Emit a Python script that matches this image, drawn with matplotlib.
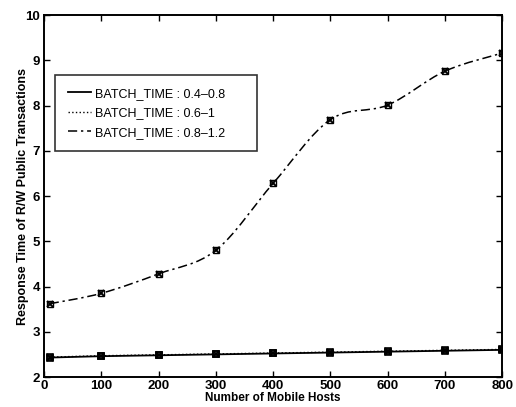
import matplotlib.pyplot as plt
import numpy as np
from matplotlib.path import Path
from matplotlib.patches import PathPatch
from matplotlib.lines import Line2D

plt.rcParams['font.family'] = ['Liberation Sans', 'DejaVu Sans']

hosts = [10, 100, 200, 300, 400, 500, 600, 700, 800]
batch_a = [2.43, 2.46, 2.48, 2.50, 2.52, 2.54, 2.56, 2.58, 2.60]   # 0.4-0.8
batch_b = [2.44, 2.47, 2.49, 2.51, 2.53, 2.55, 2.57, 2.59, 2.61]   # 0.6-1
batch_c = [3.62, 3.85, 4.28, 4.80, 6.28, 7.69, 8.01, 8.76, 9.16]   # 0.8-1.2
labels = ['BATCH_TIME : 0.4\u20130.8', 'BATCH_TIME : 0.6\u20131', 'BATCH_TIME : 0.8\u20131.2']


def smooth_path(x, y):
    # catmull-rom -> cubic bezier, only for drawing the connecting line
    x = np.asarray(x, float); y = np.asarray(y, float)
    verts = [(x[0], y[0])]
    codes = [Path.MOVETO]
    n = len(x)
    for i in range(n - 1):
        x0, y0 = (x[i-1], y[i-1]) if i > 0 else (x[i], y[i])
        x3, y3 = (x[i+2], y[i+2]) if i + 2 < n else (x[i+1], y[i+1])
        c1 = (x[i] + (x[i+1] - x0) / 6, y[i] + (y[i+1] - y0) / 6)
        c2 = (x[i+1] - (x3 - x[i]) / 6, y[i+1] - (y3 - y[i]) / 6)
        verts += [c1, c2, (x[i+1], y[i+1])]
        codes += [Path.CURVE4] * 3
    return Path(verts, codes)


fig = plt.figure(figsize=(5.16, 4.07), dpi=100)
ax = fig.add_axes([0.0853, 0.0737, 0.888, 0.8893])

ax.plot(hosts, batch_a, color='black', lw=1.3)
ax.plot(hosts, batch_b, color='black', lw=1.0, ls=':')
ax.add_patch(PathPatch(smooth_path(hosts, batch_c), fill=False, ec='black',
                       lw=1.1, ls=(0, (6, 2.5, 1.5, 2.5))))

for ys in (batch_a, batch_b):
    ax.plot(hosts, ys, ls='none', marker='s', ms=5, mfc='none', mec='black', mew=1.2)
    ax.plot(hosts, ys, ls='none', marker='x', ms=4, mec='black', mew=1.2)
ax.plot(hosts, batch_c, ls='none', marker='s', ms=4.5, mfc='none', mec='black', mew=1.0)
ax.plot(hosts, batch_c, ls='none', marker='x', ms=5, mec='black', mew=1.4)

ax.set_xlim(0, 800)
ax.set_ylim(2, 10)
ax.set_xticks(range(0, 801, 100))
ax.set_yticks(range(2, 11))
ax.tick_params(direction='in', top=True, right=True, labelsize=9.5, length=4, width=1, pad=3)
ax.tick_params(axis='x', pad=2)
for lab in ax.get_xticklabels() + ax.get_yticklabels():
    lab.set_fontweight('bold')
for sp in ax.spines.values():
    sp.set_linewidth(1.4)

ax.set_xlabel('Number of Mobile Hosts', fontsize=8.5, fontweight='bold', labelpad=0)
ax.set_ylabel('Response Time of R/W Public Transactions', fontsize=9, fontweight='bold', labelpad=-3)

handles = [Line2D([], [], color='black', lw=1.3),
           Line2D([], [], color='black', lw=1.0, ls=':'),
           Line2D([], [], color='black', lw=1.1, ls=(0, (6, 2.5, 1.5, 2.5)))]
leg = ax.legend(handles, labels, loc='upper left', bbox_to_anchor=(0.024, 0.834, 0.44, 0.0),
                mode='expand', borderaxespad=0,
                fontsize=9, frameon=True, fancybox=False, edgecolor='black',
                handlelength=1.9, handletextpad=0.3, borderpad=1.0, labelspacing=0.6)
leg.get_frame().set_linewidth(1.2)

fig.savefig('out.png', dpi=100)
